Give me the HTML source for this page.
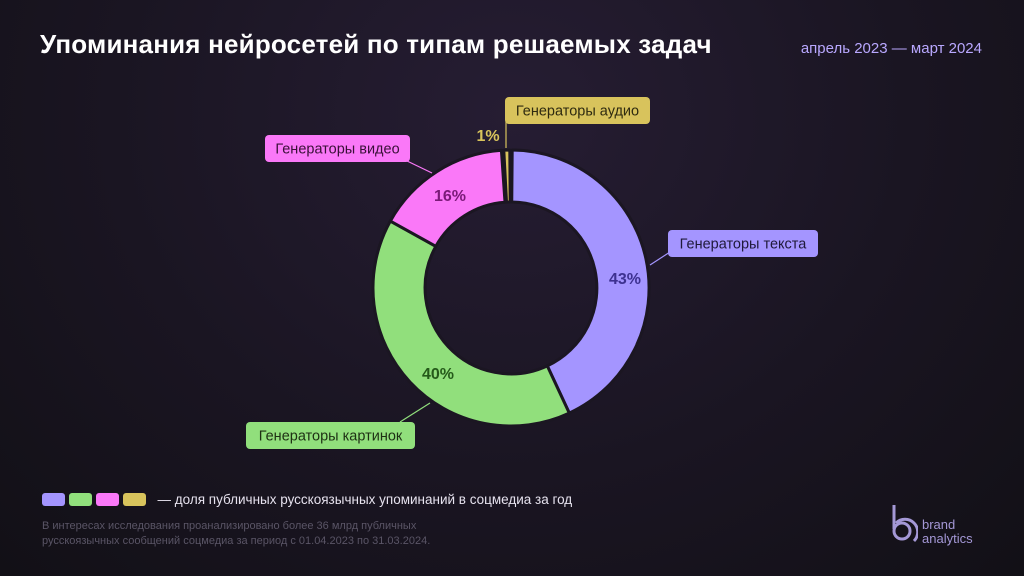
<!DOCTYPE html>
<html><head><meta charset="utf-8"><style>
body{margin:0;width:1024px;height:576px;overflow:hidden;font-family:"Liberation Sans","Noto Sans CJK SC",sans-serif;
background:radial-gradient(ellipse at 50% 20%,#261d33 0%,#1a1522 55%,#121016 100%);position:relative;color:#fff}
.t{position:absolute;left:40px;top:29px;font-size:26px;font-weight:bold;letter-spacing:0.2px}
.d{position:absolute;right:42px;top:40px;font-size:15px;color:#b9a8ff}
.leg{position:absolute;left:42px;top:492px;font-size:13.5px;color:#e6e2ee;display:flex;align-items:center}
.leg i{display:inline-block;width:23px;height:13px;border-radius:3px;margin-right:4px}
.note{position:absolute;left:42px;top:519px;font-size:11px;line-height:15px;color:#5a5566}
.logo{position:absolute;left:893px;top:503px;color:#a498d6;font-size:13px;line-height:14px}
</style></head><body>
<div class="t">Упоминания нейросетей по типам решаемых задач</div>
<div class="d">апрель 2023 — март 2024</div>
<svg width="1024" height="576" style="position:absolute;left:0;top:0" font-family="Liberation Sans, sans-serif">
<g stroke="#1b1622" stroke-width="3" stroke-linejoin="round">
<path d="M512.2,150 A138,138 0 0 1 569.3,413.1 L547.3,365.9 A86,86 0 0 0 511.75,202 Z" fill="#a495ff"/>
<path d="M569.3,413.1 A138,138 0 0 1 390.3,221.1 L435.8,246.3 A86,86 0 0 0 547.3,365.9 Z" fill="#91df7c"/>
<path d="M390.3,221.1 A138,138 0 0 1 501.4,150.3 L505,202.2 A86,86 0 0 0 435.8,246.3 Z" fill="#fa78f8"/>
<path d="M503.8,150.2 A138,138 0 0 1 509.8,150 L510.2,202 A86,86 0 0 0 506.5,202.1 Z" fill="#d8c35c"/>
</g>
<g stroke-width="1.2">
<line x1="650" y1="265" x2="670" y2="252" stroke="#a495ff"/>
<line x1="400" y1="422" x2="430" y2="403" stroke="#91df7c"/>
<line x1="405" y1="160" x2="432" y2="173" stroke="#fa78f8"/>
<line x1="506" y1="120" x2="506" y2="148" stroke="#d8c35c"/>
</g>
<rect x="668" y="230" width="150" height="27" rx="4" fill="#a495ff"/>
<text x="743" y="248.5" text-anchor="middle" font-size="14.5" fill="#1f1a3a">Генераторы текста</text>
<rect x="246" y="422" width="169" height="27" rx="4" fill="#91df7c"/>
<text x="330.5" y="440.5" text-anchor="middle" font-size="14.5" fill="#1e3014">Генераторы картинок</text>
<rect x="265" y="135" width="145" height="27" rx="4" fill="#fa78f8"/>
<text x="337.5" y="153.5" text-anchor="middle" font-size="14.5" fill="#3a1038">Генераторы видео</text>
<rect x="505" y="97" width="145" height="27" rx="4" fill="#d8c35c"/>
<text x="577.5" y="115.5" text-anchor="middle" font-size="14.5" fill="#2e2a10">Генераторы аудио</text>
<g font-size="16" text-anchor="middle" font-weight="bold">
<text x="625" y="284" fill="#3d3190">43%</text>
<text x="438" y="379" fill="#255a1a">40%</text>
<text x="450" y="201" fill="#7a1a78">16%</text>
<text x="488" y="141" fill="#d8c35c">1%</text>
</g>
</svg>
<div class="leg"><i style="background:#a495ff"></i><i style="background:#91df7c"></i><i style="background:#fa78f8"></i><i style="background:#d8c35c"></i>&nbsp;&nbsp;— доля публичных русскоязычных упоминаний в соцмедиа за год</div>
<div class="note">В интересах исследования проанализировано более 36 млрд публичных<br>русскоязычных сообщений соцмедиа за период с 01.04.2023 по 31.03.2024.</div>
<svg width="30" height="44" style="position:absolute;left:888px;top:503px" fill="none" stroke="#a498d6" stroke-width="3">
<line x1="6" y1="2" x2="6" y2="26"/><circle cx="14" cy="28" r="8"/><path d="M8,20 A12,12 0 1 1 26,38"/></svg>
<div class="logo" style="left:922px;top:518px">brand<br>analytics</div>
</body></html>
